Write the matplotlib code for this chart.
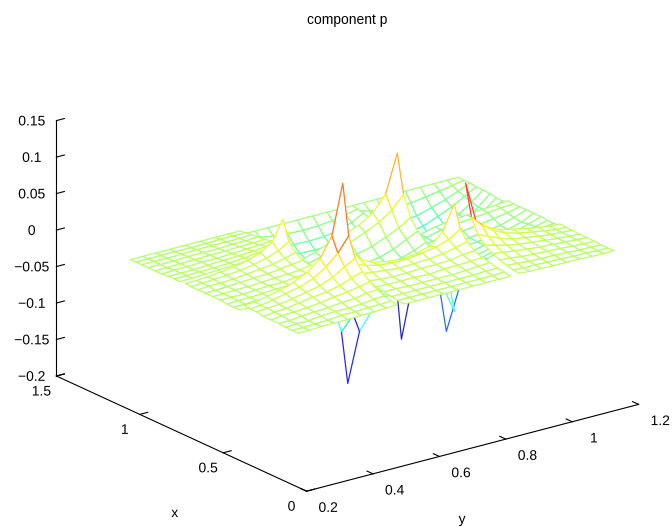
import numpy as np
import matplotlib
matplotlib.use('Agg')
import matplotlib.pyplot as plt
from matplotlib.patheffects import Stroke
from mpl_toolkits.mplot3d.art3d import Poly3DCollection

plt.rcParams['font.family'] = ['Liberation Sans', 'DejaVu Sans']

# bounds of the 3 x 3 blocks, each has its own 9 x 9 mesh (blocks do not quite line up)
x_lo = [[0.1, 0.1, 0.1], [0.42, 0.43, 0.454], [0.78, 0.765, 0.765]]
x_hi = [[0.424, 0.4365, 0.42], [0.747, 0.774, 0.765], [1.076, 1.06, 1.06]]
y_lo = [[0.225, 0.544, 0.89], [0.21, 0.54, 0.849], [0.21, 0.54, 0.87]]
y_hi = [[0.522, 0.864, 1.175], [0.504, 0.862, 1.19], [0.54, 0.87, 1.19]]
nodes = [0, 0.11, 0.23, 0.36, 0.5, 0.64, 0.77, 0.89, 1]

# z values in thousandths, row = x node, column = y node
e00 = [[3, 3, 4, 4, 4, 5, 5, 6, 7], [3, 3, 4, 4, 6, 6, 7, 7, 8], [3, 4, 4, 6, 7, 7, 8, 10, 11],
       [4, 4, 6, 7, 8, 10, 11, 14, 15], [4, 6, 7, 8, 10, 13, 15, 18, 21], [4, 6, 7, 10, 13, 15, 19, 25, 30],
       [6, 7, 8, 11, 15, 19, 26, 36, 44], [6, 7, 10, 14, 18, 25, 36, 51, 71], [7, 8, 11, 15, 21, 30, 44, 71, 139]]
e01 = [[5, 5, 5, 5, 5, 5, 5, 5, 5], [6, 6, 6, 6, 6, 6, 6, 6, 7], [7, 7, 7, 7, 7, 7, 7, 8, 8],
       [9, 9, 8, 8, 8, 8, 9, 10, 11], [11, 10, 10, 10, 9, 11, 11, 12, 13], [14, 12, 11, 11, 12, 12, 13, 16, 17],
       [19, 17, 15, 13, 14, 15, 17, 21, 25], [28, 22, 18, 16, 16, 19, 22, 28, 38], [48, 27, 18, 14, 12, 14, 20, 34, 69]]
e02 = [[6, 5, 5, 4, 4, 4, 3, 3, 3], [7, 6, 6, 5, 5, 4, 4, 3, 3], [9, 8, 7, 6, 6, 5, 4, 4, 3],
       [12, 11, 9, 8, 7, 6, 5, 4, 4], [16, 14, 12, 10, 8, 7, 6, 5, 4], [23, 19, 15, 12, 10, 8, 6, 5, 4],
       [33, 27, 20, 15, 12, 9, 7, 6, 5], [53, 38, 27, 19, 14, 11, 8, 6, 5], [96, 40, 28, 20, 16, 12, 9, 7, 6]]
e10 = [[3, 3, 4, 5, 6, 9, 13, 18, 25], [3, 3, 4, 4, 6, 8, 12, 16, 22], [3, 4, 4, 5, 6, 7, 10, 13, 18],
       [4, 4, 4, 5, 6, 6, 8, 10, 14], [4, 4, 5, 5, 6, 7, 8, 9, 12], [4, 4, 5, 6, 7, 8, 10, 12, 14],
       [4, 5, 5, 6, 8, 10, 12, 16, 20], [4, 5, 6, 7, 9, 12, 16, 22, 31], [5, 5, 6, 8, 10, 14, 20, 31, 58]]
e11 = [[-138, -71, -46, -33, -27, -26, -29, -40, -78], [-71, -52, -39, -30, -24, -24, -25, -30, -38],
       [-46, -40, -33, -28, -25, -23, -22, -23, -23], [-31, -31, -27, -26, -25, -22, -18, -15, -11],
       [-22, -23, -23, -23, -21, -17, -14, -8, -1], [-20, -21, -20, -18, -16, -13, -7, 2, 9],
       [-15, -16, -13, -11, -8, -3, 5, 13, 23], [-15, -10, -6, 0, 4, 12, 21, 33, 50],
       [-21, -9, -3, 4, 10, 18, 30, 51, 103]]
e12 = [[-106, -53, -32, -21, -14, -10, -6, -4, -3], [-60, -45, -33, -24, -16, -11, -7, -4, -2],
       [-40, -38, -32, -25, -19, -14, -9, -6, -2], [-32, -32, -29, -25, -20, -16, -12, -7, -1],
       [-20, -23, -24, -22, -20, -18, -14, -9, -1], [-20, -21, -21, -20, -19, -16, -13, -7, -1],
       [-21, -20, -17, -15, -14, -11, -8, -5, -1], [-29, -21, -16, -11, -8, -6, -4, -2, -1],
       [-53, -26, -15, -10, -7, -5, -3, -2, 0]]
e20 = [[4, 4, 5, 6, 7, 9, 12, 18, 33], [4, 4, 5, 5, 6, 8, 10, 14, 18], [4, 4, 4, 5, 6, 7, 8, 10, 12],
       [3, 4, 4, 5, 5, 6, 7, 8, 9], [3, 3, 4, 4, 5, 5, 6, 6, 7], [3, 3, 3, 4, 4, 4, 5, 5, 6],
       [3, 3, 3, 3, 4, 4, 4, 4, 5], [3, 3, 3, 3, 3, 3, 4, 4, 4], [3, 3, 3, 3, 3, 3, 3, 3, 3]]
e21 = [[-70, -55, -45, -38, -27, -27, -31, -37, -60], [-50, -48, -44, -38, -31, -31, -31, -32, -32],
       [-38, -42, -42, -38, -31, -30, -30, -30, -24], [-16, -28, -33, -35, -35, -34, -31, -26, -16],
       [-10, -24, -31, -34, -34, -33, -30, -24, -10], [-6, -18, -26, -29, -30, -29, -26, -18, -6],
       [-3, -12, -18, -21, -22, -21, -18, -12, -3], [-1, -5, -8, -10, -11, -10, -8, -5, -1],
       [0, 0, 0, 0, 0, 0, 0, 0, 0]]
e22 = [[-152, -76, -50, -42, -36, -28, -20, -12, -5], [-76, -62, -54, -50, -44, -34, -24, -14, -4],
       [-56, -56, -55, -54, -48, -38, -28, -16, -3], [-46, -50, -54, -54, -50, -40, -28, -16, -2],
       [-36, -42, -48, -50, -46, -36, -26, -14, -1], [-24, -32, -38, -40, -36, -28, -20, -10, -1],
       [-12, -20, -26, -28, -26, -20, -14, -7, 0], [-4, -8, -12, -13, -12, -9, -6, -3, 0],
       [0, 0, 0, 0, 1, 1, 1, 1, 1]]
elements = [[e00, e01, e02], [e10, e11, e12], [e20, e21, e22]]

x_ticks = [0, 0.5, 1, 1.5]
x_tick_labels = ['0', '0.5', '1', '1.5']
y_ticks = [0.2, 0.4, 0.6, 0.8, 1, 1.2]
y_tick_labels = ['0.2', '0.4', '0.6', '0.8', '1', '1.2']
z_ticks = [-0.2, -0.15, -0.1, -0.05, 0, 0.05, 0.1, 0.15]
z_tick_labels = ['\u22120.2', '\u22120.15', '\u22120.1', '\u22120.05', '0', '0.05', '0.1', '0.15']

fig = plt.figure(figsize=(6.72, 5.27), dpi=100)
ax = fig.add_axes([24.5 / 672, -58.5 / 527, 629 / 672, 629 / 527], projection='3d')
ax.set_proj_type('ortho')
ax.set_box_aspect((1, 1, 0.655))
ax.view_init(elev=20.3, azim=-37)

# mesh: white faces hide what lies behind, edges coloured by height
norm = plt.Normalize(-0.17, 0.143)
polys = []
edge_colors = []
s = np.array(nodes)
for i in range(3):
    for j in range(3):
        xs = x_lo[i][j] + s * (x_hi[i][j] - x_lo[i][j])
        ys = y_lo[i][j] + s * (y_hi[i][j] - y_lo[i][j])
        z = np.array(elements[i][j]) / 1000
        for a in range(8):
            for b in range(8):
                zc = [z[a, b], z[a + 1, b], z[a + 1, b + 1], z[a, b + 1]]
                polys.append([(xs[a], ys[b], zc[0]), (xs[a + 1], ys[b], zc[1]),
                              (xs[a + 1], ys[b + 1], zc[2]), (xs[a], ys[b + 1], zc[3])])
                level = min(zc) if min(zc) < -0.09 else np.mean(zc)
                # the spike on the far block edge reads red in the picture
                if elements[i][j] is e02 and a == 7 and b == 0:
                    level = 0.105
                rgb = np.array(plt.cm.jet(norm(level))[:3])
                edge_colors.append(tuple(rgb * 0.85 + 0.15))

mesh = Poly3DCollection(polys, facecolors='white', edgecolors=edge_colors, linewidths=0.9)
ax.add_collection3d(mesh)

ax.set_xlim(1.5, 0)
ax.set_ylim(0.2, 1.2)
ax.set_zlim(-0.2, 0.15)
ax.set_xticks(x_ticks, x_tick_labels)
ax.set_yticks(y_ticks, y_tick_labels)
ax.set_zticks(z_ticks, z_tick_labels)
ax.tick_params(labelsize=10, pad=2)
ax.set_xlabel('x', fontsize=10, labelpad=20)
ax.set_ylabel('y', fontsize=10, labelpad=20)
ax.zaxis.set_ticks_position('lower')

ax.grid(False)
for axis in (ax.xaxis, ax.yaxis, ax.zaxis):
    axis.set_pane_color((1, 1, 1, 0))
    axis.pane.set_edgecolor('none')
    axis.line.set_linewidth(0.8)
    axis.line.set_color('black')
    axis._axinfo['tick'].update({'inward_factor': 0, 'outward_factor': 0.3})


# mplot3d resets label transforms when drawing, so nudge labels (in pixels) with a path effect
def nudge(label, dx, dy):
    label.set_path_effects([Stroke(linewidth=0, offset=(dx * 0.72, dy * 0.72))])


for t in ax.xaxis.get_major_ticks():
    nudge(t.label1, -1, 6)
for t in ax.yaxis.get_major_ticks():
    nudge(t.label1, 11, 6)
for t in ax.zaxis.get_major_ticks():
    nudge(t.label1, 0, 5)
nudge(ax.xaxis.label, 51, -20)
nudge(ax.yaxis.label, -54, -7)

fig.suptitle('component p', x=347 / 672, y=1 - 20 / 527, va='center', fontsize=10)

fig.savefig('out.png', dpi=100)
